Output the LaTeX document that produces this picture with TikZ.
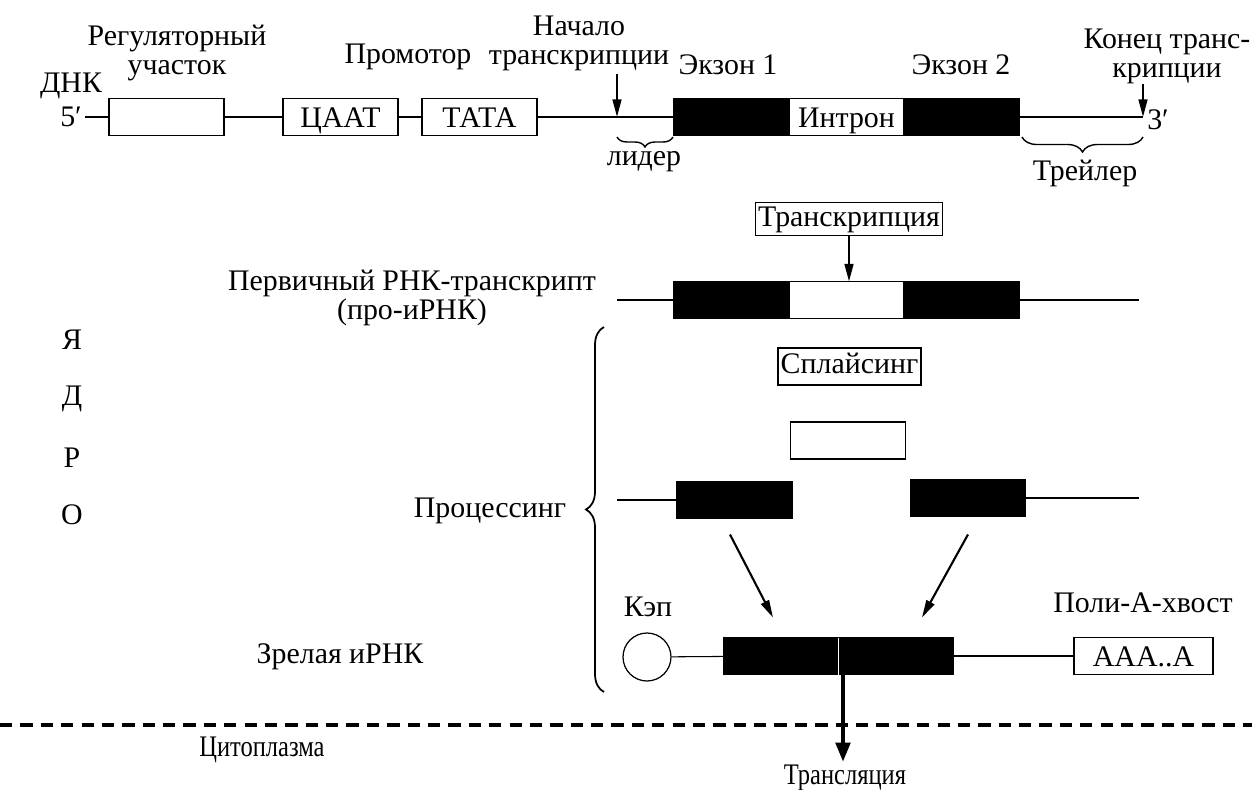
\documentclass[tikz,border=0pt]{standalone}
\usepackage{fontspec}
\setmainfont{Liberation Serif}
\newfontfamily\narrowfont[FakeStretch=0.82]{Liberation Serif}
\usepackage{tikz}
\usetikzlibrary{positioning,decorations.pathreplacing,arrows.meta}
\tikzstyle{plainbox} = [rectangle, draw=black, line width=0.7pt, fill=white, minimum width=2.3cm, minimum height=0.74cm, inner sep=0pt, outer sep=0pt, text height=11.5pt, text depth=0pt]
\tikzstyle{exon} = [plainbox, fill=black]
\tikzstyle{labelbox} = [rectangle, draw=black, line width=0.7pt, fill=white, inner xsep=1.5pt, inner ysep=2pt, text height=11.5pt, text depth=3.5pt]
\tikzstyle{strand} = [line width=0.6pt]
\tikzstyle{arrow} = [line width=1.2pt,-{Triangle[length=10pt,width=5pt]}]
\tikzstyle{bigarrow} = [line width=2.6pt,-{Triangle[length=11pt,width=8pt]}]
\tikzstyle{brace} = [decorate, line width=1pt]

\begin{document}
\begin{tikzpicture}[x=0.02cm,y=-0.02cm,font=\fontsize{17}{16.5}\selectfont]
\useasboundingbox (0,0) rectangle (1252,789);
%
% DNA
\node (reg) [plainbox] at (166.5,117) {};
\node (caat) [plainbox] at (340.5,117) {ЦААТ};
\node (tata) [plainbox] at (479.5,117) {ТАТА};
\node (ex1) [exon] at (731.5,117) {};
\node (intr) [plainbox, right=0pt of ex1] {Интрон};
\node (ex2) [exon, right=0pt of intr] {};
\coordinate (dna5) at (85,117);
\coordinate (dna3) at (1143,117);
\coordinate (tss) at (617,117);
\coordinate (tsstop) at (617,74);
\coordinate (tesstop) at (1143,84);
\draw [strand] (dna5) -- (reg) -- (caat) -- (tata) -- (ex1);
\draw [strand] (ex2) -- (dna3);
\draw [arrow] (tsstop) -- (tss);
\draw [arrow] (tesstop) -- (dna3);
\draw [brace, line width=0.8pt, decoration={brace, mirror, amplitude=0.2cm}] (617,137) -- (673,137);
\draw [brace, line width=0.8pt, decoration={brace, mirror, amplitude=0.3cm}] (1022,137) -- (1143,137);
%
\node (dna) at (71,86) {ДНК};
\node (p5) at (71,117) {5′};
\node (p3) at (1158,120) {3′};
\node (reglbl) [align=center] at (177,53) {Регуляторный\\участок};
\node (prom) at (408,57) {Промотор};
\node (start) [align=center] at (579,43) {Начало\\транскрипции};
\node (ex1lbl) at (728,65) {Экзон 1};
\node (ex2lbl) at (961,65) {Экзон 2};
\node (stop) [align=center] at (1167,56) {Конец транс-\\крипции};
\node (leader) at (644,162) {лидер};
\node (trailer) at (1085,173) {Трейлер};
%
% pre-mRNA
\node (transc) [labelbox] at (849,219) {Транскрипция};
\node (pex1) [exon] at (731.5,300) {};
\node (pint) [plainbox, right=0pt of pex1] {};
\node (pex2) [exon, right=0pt of pint] {};
\coordinate (pl) at (617,300);
\coordinate (pr) at (1139,300);
\draw [strand] (pl) -- (pex1);
\draw [strand] (pex2) -- (pr);
\draw [arrow] (transc.south) -- (transc.south |- pint.north);
\node (prelbl) [align=center] at (412,298) {Первичный РНК-транскрипт\\(про-иРНК)};
%
% processing
\node (splice) [labelbox, minimum height=0.74cm] at (849.5,366.5) {Сплайсинг};
\node (cut) [plainbox] at (848,440.5) {};
\node (qex1) [exon] at (734.5,500) {};
\node (qex2) [exon] at (968,498) {};
\coordinate (ql) at (617,500);
\coordinate (qr) at (1139,498);
\draw [strand] (ql) -- (qex1);
\draw [strand] (qex2) -- (qr);
\node (proc) at (490,511) {Процессинг};
\draw [brace, decoration={brace, amplitude=0.36cm}] (604,692) -- (604,327);
%
% mature mRNA
\node (cap) [circle, draw, line width=0.7pt, minimum size=0.96cm, inner sep=0pt] at (647,657) {};
\node (mex1) [exon] at (781,656) {};
\node (mex2) [exon, right=0pt of mex1] {};
\node (polya) [plainbox, minimum width=2.78cm] at (1143.5,656) {AAA..A};
\draw [strand] (cap) -- (mex1);
\draw [strand] (mex2) -- (polya);
\draw [white, line width=0.6pt] (mex1.north east) -- (mex1.south east);
\draw [arrow] ([xshift=-0.09cm, yshift=-0.32cm]qex1.south) -- ([xshift=-0.16cm, yshift=0.4cm]mex1.north);
\draw [arrow] ([yshift=-0.36cm]qex2.south) -- ([xshift=0.52cm, yshift=0.4cm]mex2.north);
\node (caplbl) at (648,607) {Кэп};
\node (polylbl) at (1143,603) {Поли-А-хвост};
\node (mature) at (340,657) {Зрелая иРНК};
%
% nucleus
\foreach \ch/\y in {Я/340,Д/399,Р/458,О/515}
  \node (nuc\y) at (72,\y) {\ch};
%
% cytoplasm
\draw [line width=1.8pt, dash pattern=on 7pt off 4.6pt] (0,725) -- (1252,725);
\coordinate (transl) at (843,762);
\draw [bigarrow] (transl |- mex1.south) -- (transl);
\node (cyto) at (262,750) {\narrowfont Цитоплазма};
\node (tlbl) at (845,778) {\narrowfont Трансляция};
%
\end{tikzpicture}
\end{document}
